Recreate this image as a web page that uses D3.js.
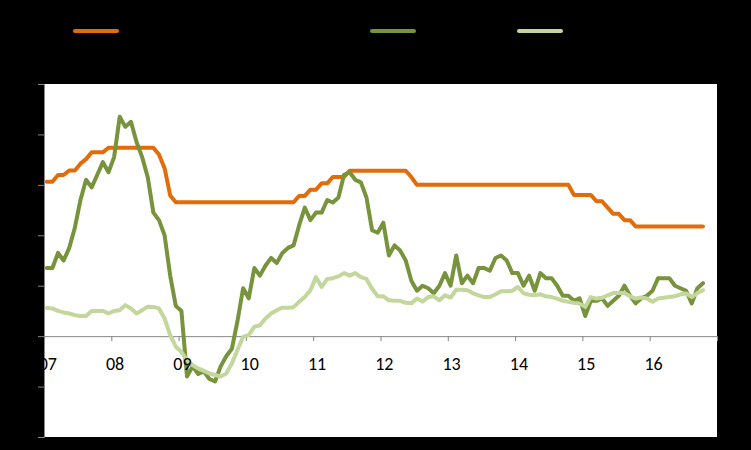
<!DOCTYPE html>
<html><head><meta charset="utf-8">
<script src="https://cdn.jsdelivr.net/npm/d3@7"></script>
<style>html,body{margin:0;padding:0;background:#000;}svg{display:block;}</style>
</head><body>
<svg id="chart" width="751" height="450"></svg>
<script>
// Year labels shown on the category axis
const yearLabels = ["07","08","09","10","11","12","13","14","15","16"];
const firstYear = 2007;
const nMonthsAxis = 120;   // Jan 2007 .. Dec 2016
// Y axis ticks
const yTicks = [-4,-2,0,2,4,6,8,10];

// Series (monthly, Jan 2007 .. Oct 2016)
const lendingRate = [
 6.12,6.12,6.39,6.39,6.57,6.57,6.84,7.02,7.29,7.29,7.29,7.47,
 7.47,7.47,7.47,7.47,7.47,7.47,7.47,7.47,7.20,6.66,5.58,5.31,
 5.31,5.31,5.31,5.31,5.31,5.31,5.31,5.31,5.31,5.31,5.31,5.31,
 5.31,5.31,5.31,5.31,5.31,5.31,5.31,5.31,5.31,5.56,5.56,5.81,
 5.81,6.06,6.06,6.31,6.31,6.31,6.56,6.56,6.56,6.56,6.56,6.56,
 6.56,6.56,6.56,6.56,6.56,6.31,6.00,6.00,6.00,6.00,6.00,6.00,
 6.00,6.00,6.00,6.00,6.00,6.00,6.00,6.00,6.00,6.00,6.00,6.00,
 6.00,6.00,6.00,6.00,6.00,6.00,6.00,6.00,6.00,6.00,5.60,5.60,
 5.60,5.60,5.35,5.35,5.10,4.85,4.85,4.60,4.60,4.35,4.35,4.35,
 4.35,4.35,4.35,4.35,4.35,4.35,4.35,4.35,4.35,4.35
];
const cpi = [
 2.7,2.7,3.3,3.0,3.5,4.3,5.4,6.2,5.9,6.4,6.9,6.5,
 7.1,8.7,8.3,8.5,7.7,7.1,6.3,4.9,4.6,4.0,2.4,1.2,
 1.0,-1.6,-1.2,-1.5,-1.4,-1.7,-1.8,-1.2,-0.8,-0.5,0.6,1.9,
 1.5,2.7,2.4,2.8,3.1,2.9,3.3,3.5,3.6,4.4,5.1,4.6,
 4.9,4.9,5.4,5.3,5.5,6.4,6.5,6.2,6.1,5.5,4.2,4.1,
 4.5,3.2,3.6,3.4,3.0,2.2,1.8,2.0,1.9,1.7,2.0,2.5,
 2.0,3.2,2.1,2.4,2.1,2.7,2.7,2.6,3.1,3.2,3.0,2.5,
 2.5,2.0,2.4,1.8,2.5,2.3,2.3,2.0,1.6,1.6,1.4,1.5,
 0.8,1.4,1.4,1.5,1.2,1.4,1.6,2.0,1.6,1.3,1.5,1.6,
 1.8,2.3,2.3,2.3,2.0,1.9,1.8,1.3,1.9,2.1
];
const coreCpi = [
 1.12,1.10,1.00,0.94,0.90,0.83,0.80,0.80,1.00,1.00,1.00,0.90,
 1.00,1.03,1.23,1.10,0.90,1.03,1.17,1.16,1.10,0.70,0.04,-0.42,
 -0.62,-0.95,-1.15,-1.28,-1.38,-1.48,-1.54,-1.60,-1.48,-1.08,-0.55,-0.03,
 0.04,0.37,0.43,0.70,0.90,1.03,1.13,1.13,1.15,1.36,1.55,1.82,
 2.34,1.95,2.27,2.30,2.37,2.50,2.40,2.50,2.34,2.27,1.88,1.58,
 1.58,1.42,1.40,1.40,1.32,1.30,1.49,1.37,1.55,1.58,1.42,1.62,
 1.53,1.84,1.84,1.82,1.70,1.62,1.55,1.55,1.66,1.78,1.78,1.80,
 1.95,1.70,1.64,1.62,1.66,1.58,1.55,1.49,1.40,1.36,1.32,1.29,
 1.16,1.55,1.49,1.52,1.62,1.71,1.71,1.71,1.58,1.49,1.53,1.49,
 1.36,1.49,1.52,1.55,1.58,1.66,1.69,1.55,1.71,1.82
];

const colors = {lending:"#E36C0A", cpi:"#77933C", core:"#C3D69B"};

const svg = d3.select("#chart");
const L = 44, R = 717, T = 84, B = 437;

// plot area
svg.append("rect").attr("x",L).attr("y",T).attr("width",R-L).attr("height",B-T).attr("fill","#fff");

const months = d3.range(nMonthsAxis);
const x = d3.scaleBand().domain(months).range([L,R]).padding(0);
const cx = i => x(i) + x.bandwidth()/2;
const y = d3.scaleLinear().domain([-4,10]).range([B,T]);

// y axis
const yAxis = svg.append("g").attr("transform",`translate(${L},0)`)
  .call(d3.axisLeft(y).tickValues(yTicks).tickSize(6).tickFormat(""));
yAxis.selectAll("path,line").attr("stroke","#868686").attr("stroke-width",1);

// x axis (zero line + year boundary ticks)
const xYears = d3.scaleLinear().domain([firstYear, firstYear+yearLabels.length]).range([L,R]);
const xAxis = svg.append("g").attr("transform",`translate(0,${y(0)})`)
  .call(d3.axisBottom(xYears).tickValues(d3.range(firstYear+1, firstYear+yearLabels.length+1)).tickSize(5).tickSizeOuter(0).tickFormat(""));
xAxis.selectAll("path,line").attr("stroke","#868686").attr("stroke-width",1);

// lines
const line = d3.line().x((d,i)=>cx(i)).y(d=>y(d)).curve(d3.curveLinear);
const series = [
  {key:"lending", values:lendingRate},
  {key:"cpi", values:cpi},
  {key:"core", values:coreCpi}
];
svg.append("g").selectAll("path").data(series).join("path")
  .attr("d",d=>line(d.values))
  .attr("fill","none")
  .attr("stroke",d=>colors[d.key])
  .attr("stroke-width",4)
  .attr("stroke-linejoin","round")
  .attr("stroke-linecap","round");

// year labels at January of each year (drawn above the lines)
svg.append("g").selectAll("text").data(yearLabels).join("text")
  .attr("x",(d,k)=>cx(k*12)+1)
  .attr("y",370)
  .attr("text-anchor","middle")
  .attr("font-family","Carlito, 'Liberation Sans', Arial, sans-serif")
  .attr("font-size",18)
  .attr("fill","#000")
  .text(d=>d);

// legend swatches
const legendX = [75, 372, 519];
svg.append("g").selectAll("line").data(series).join("line")
  .attr("x1",(d,i)=>legendX[i]).attr("x2",(d,i)=>legendX[i]+42)
  .attr("y1",31).attr("y2",31)
  .attr("stroke",d=>colors[d.key])
  .attr("stroke-width",4)
  .attr("stroke-linecap","round");
</script>
</body></html>
